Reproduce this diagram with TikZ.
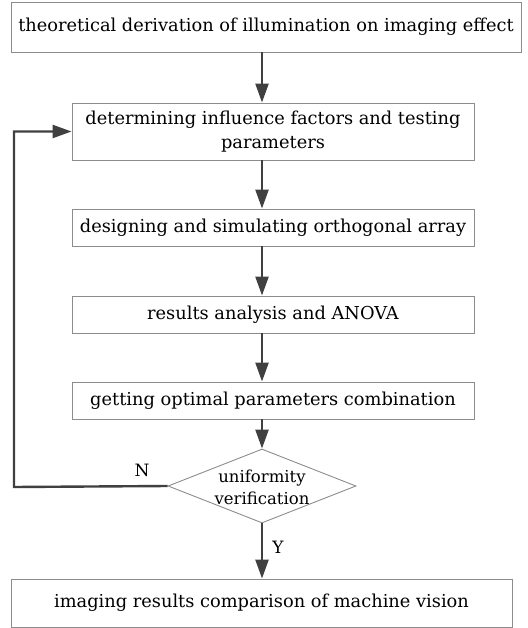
\documentclass[tikz,border=0pt]{standalone}
\usepackage{fontspec}
\setmainfont{DejaVu Serif}
\usetikzlibrary{shapes.geometric,arrows.meta}
\begin{document}
\begin{tikzpicture}[x=1pt,y=-1pt,
  box/.style={draw=boxgray,line width=0.9pt,rectangle,inner sep=0pt,align=center,font=\fontsize{17.8}{24}\selectfont},
  flow/.style={draw=arrowgray,line width=2.4pt,-{Triangle[width=13pt,length=19pt]}},
  lbl/.style={font=\fontsize{17}{20}\selectfont,inner sep=0pt}]
\definecolor{boxgray}{RGB}{140,140,140}
\definecolor{arrowgray}{RGB}{64,64,64}
\useasboundingbox (0,0) rectangle (527,628);
\node[box,minimum width=510,minimum height=50] (b1) at (266,27) {theoretical derivation of illumination on imaging effect};
\node[box,minimum width=402,minimum height=57] (b2) at (273,131.5) {determining influence factors and testing\\parameters};
\node[box,minimum width=402,minimum height=37] (b3) at (273,227.5) {designing and simulating orthogonal array};
\node[box,minimum width=402,minimum height=37] (b4) at (273,314.5) {results analysis and ANOVA};
\node[box,minimum width=402,minimum height=37] (b5) at (273,400.5) {getting optimal parameters combination};
\node[diamond,draw=boxgray,line width=0.9pt,inner sep=0pt,minimum width=188,minimum height=74] (d) at (262,486) {};
\node[align=center,inner sep=0pt,font=\fontsize{16.5}{22}\selectfont] (dt) at (262,487) {uniformity\\verification};
\node[box,minimum width=501,minimum height=48] (b6) at (261.5,603) {imaging results comparison of machine vision};
\coordinate (lc) at (14,487);
\node[lbl] (n) at (142,470) {N};
\node[lbl] (y) at (278,547) {Y};
\draw[flow] (b1.south -| d) -- (b2.north -| d);
\draw[flow] (b2.south -| d) -- (b3.north -| d);
\draw[flow] (b3.south -| d) -- (b4.north -| d);
\draw[flow] (b4.south -| d) -- (b5.north -| d);
\draw[flow] (b5.south -| d) -- (d.north);
\draw[flow] (d.south) -- (b6.north -| d);
\draw[flow] (d.west) -- (lc) |- (b2.west);
\end{tikzpicture}
\end{document}
